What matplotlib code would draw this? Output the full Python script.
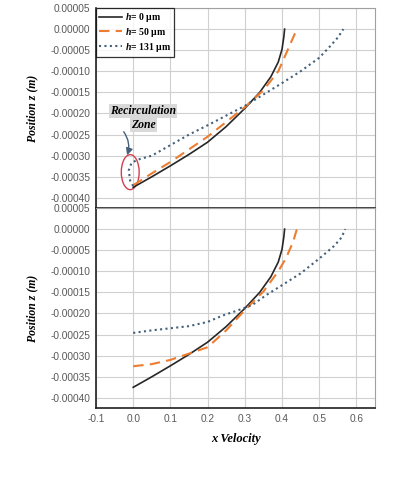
import matplotlib
matplotlib.use("Agg")
import matplotlib.pyplot as plt
from matplotlib.patches import Ellipse
from matplotlib.ticker import FormatStrFormatter, MultipleLocator

plt.rcParams['mathtext.fontset'] = 'custom'
plt.rcParams['mathtext.it'] = 'Liberation Serif:italic:bold'
plt.rcParams['mathtext.rm'] = 'Liberation Serif:bold'

# top panel data
x_h0 = [0.0, 0.05, 0.1, 0.15, 0.2, 0.25, 0.3, 0.34, 0.37, 0.39, 0.40, 0.405, 0.407]
z_h0 = [-0.000375, -0.00035, -0.000324, -0.000297, -0.000268, -0.000231, -0.000188,
        -0.00015, -0.000113, -0.000078, -0.000048, -0.000018, 0.0]

x_h50_top = [0.0, 0.05, 0.1, 0.15, 0.2, 0.25, 0.3, 0.35, 0.39, 0.41, 0.425, 0.435, 0.44]
z_h50_top = [-0.00037, -0.000342, -0.000315, -0.000285, -0.000255, -0.00022, -0.000185,
             -0.000145, -0.0001, -0.00006, -0.00003, -0.00001, 0.0]

x_h131_top = [0.0, -0.008, -0.012, -0.005, 0.01, 0.05, 0.1, 0.15, 0.2, 0.25, 0.3, 0.35,
              0.4, 0.45, 0.5, 0.53, 0.55, 0.565]
z_h131_top = [-0.000372, -0.00036, -0.000335, -0.000318, -0.00031, -0.0003, -0.000275,
              -0.00025, -0.000228, -0.000205, -0.000182, -0.000155, -0.000128, -0.0001,
              -0.000068, -0.00004, -0.00002, 0.0]

# bottom panel data
x_h50_bot = [0.0, 0.05, 0.1, 0.15, 0.2, 0.25, 0.3, 0.35, 0.39, 0.41, 0.43, 0.44]
z_h50_bot = [-0.000325, -0.00032, -0.00031, -0.000295, -0.00028, -0.00024, -0.000192,
             -0.000148, -0.0001, -0.00007, -0.00003, 0.0]

x_h131_bot = [0.0, 0.05, 0.1, 0.15, 0.2, 0.24, 0.28, 0.32, 0.36, 0.4, 0.45, 0.5, 0.54,
              0.56, 0.57]
z_h131_bot = [-0.000246, -0.00024, -0.000235, -0.00023, -0.00022, -0.000205, -0.000193,
              -0.00018, -0.000155, -0.000133, -0.000105, -0.00007, -0.00004, -0.00002, 0.0]

labels = [r"$\mathit{h}$= 0 μm", r"$\mathit{h}$= 50 μm", r"$\mathit{h}$= 131 μm"]

c_black = "#262626"
c_orange = "#ed7d31"
c_blue = "#44607a"
tick_col = "#595959"

fig = plt.figure(figsize=(3.96, 4.80), dpi=100)
ax1 = fig.add_axes([96/396, 1-208/480, (375-96)/396, 200/480])
ax2 = fig.add_axes([96/396, 1-408/480, (375-96)/396, 200/480])

for ax in (ax1, ax2):
    ax.set_xlim(-0.1, 0.65)
    ax.set_ylim(-0.000424, 0.00005)
    ax.xaxis.set_major_locator(MultipleLocator(0.1))
    ax.yaxis.set_major_locator(MultipleLocator(0.00005))
    ax.yaxis.set_major_formatter(FormatStrFormatter('%.5f'))
    ax.xaxis.set_major_formatter(FormatStrFormatter('%.1f'))
    ax.grid(True, color="#d0d0d0", lw=0.8)
    ax.set_axisbelow(True)
    ax.tick_params(length=0, labelsize=7.3, labelcolor=tick_col, pad=4)
    for lab in ax.get_yticklabels() + ax.get_xticklabels():
        lab.set_family('Liberation Sans')
    ax.spines['top'].set_color("#a0a0a0")
    ax.spines['right'].set_color("#a0a0a0")
    ax.spines['left'].set_color("#202020")
    ax.spines['left'].set_linewidth(1.2)
    ax.spines['bottom'].set_color("#202020")
    ax.spines['bottom'].set_linewidth(1.2)
    ax.set_ylabel("Position z (m)", family='Liberation Serif', weight='bold',
                  style='italic', fontsize=8.5, labelpad=9)

ax1.tick_params(labelbottom=False)

ax1.plot(x_h0, z_h0, color=c_black, lw=1.2, label=labels[0])
ax1.plot(x_h50_top, z_h50_top, color=c_orange, lw=1.5, ls=(0, (5, 3)), label=labels[1])
ax1.plot(x_h131_top, z_h131_top, color=c_blue, lw=1.5, ls=(0, (1, 1.6)), label=labels[2])

ax2.plot(x_h0, z_h0, color=c_black, lw=1.2)
ax2.plot(x_h50_bot, z_h50_bot, color=c_orange, lw=1.5, ls=(0, (5, 3)))
ax2.plot(x_h131_bot, z_h131_bot, color=c_blue, lw=1.5, ls=(0, (1, 1.6)))

leg = ax1.legend(loc='upper left', borderaxespad=0, fancybox=False, handlelength=2.4,
                 prop={'family': 'Liberation Serif', 'weight': 'bold', 'size': 7},
                 labelspacing=0.2, borderpad=0.3, handletextpad=0.3)
leg.get_frame().set_edgecolor('black')
leg.get_frame().set_linewidth(0.9)

txt_style = dict(ha='center', va='center', family='Liberation Serif', weight='bold',
                 style='italic', fontsize=8.5,
                 bbox=dict(facecolor='#d9d9d9', edgecolor='none', pad=0.8))
ax1.text(0.027, -0.000195, "Recirculation", **txt_style)
ax1.text(0.027, -0.000228, "Zone", **txt_style)
ax1.annotate("", xy=(-0.019, -0.000305), xytext=(-0.03, -0.000238),
             arrowprops=dict(arrowstyle='-|>', color=c_blue, lw=1.0,
                             connectionstyle='arc3,rad=-0.3'))
ax1.add_patch(Ellipse((-0.008, -0.000339), 0.048, 0.000083, fill=False,
                      edgecolor='#d04050', lw=1.0))

ax2.set_xlabel("x Velocity", family='Liberation Serif', weight='bold', style='italic',
               fontsize=9, labelpad=7)

fig.savefig("out.png", dpi=100)
